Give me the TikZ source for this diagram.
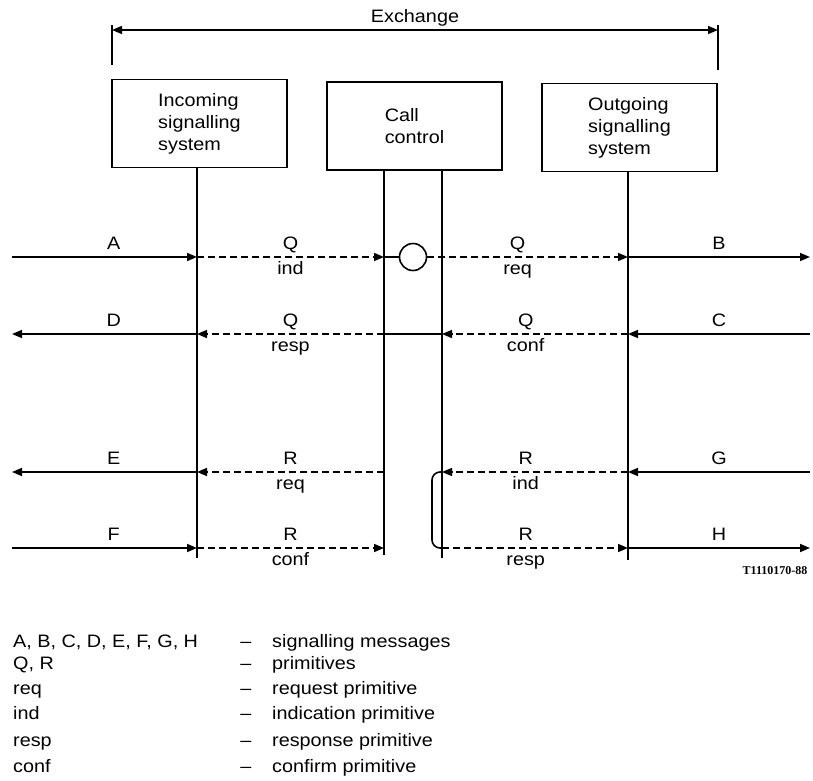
\documentclass[tikz,border=0pt]{standalone}
\usepackage{fontspec}
\setmainfont{Liberation Sans}[FakeStretch=1.1]
\newfontfamily\codefont{Liberation Serif}
\usetikzlibrary{arrows.meta}

\begin{document}
\begin{tikzpicture}[
    x=1pt, y=-1pt,
    font=\fontsize{18}{22}\selectfont,
    box/.style={rectangle, draw, line width=1.6pt, minimum width=175pt, minimum height=88pt, inner sep=0pt, align=left},
    wire/.style={draw, line width=1.6pt},
    sig/.style={wire, -{Triangle[length=10pt, width=8pt]}},
    prim/.style={sig, dash pattern=on 7pt off 4pt},
    lab/.style={inner sep=0pt, text height=13pt, text depth=4pt},
    up/.style={lab, above=3pt},
    down/.style={lab, below=4pt}
]
\useasboundingbox (0,0) rectangle (813,780);

% Define nodes
\node[box] (insys) at (199.5,123.5) {Incoming\\signalling\\system};
\node[box] (call) at (414.5,126) {Call\\control};
\node[box] (outsys) at (629.5,127.5) {Outgoing\\signalling\\system};
\node[circle, draw, line width=1.6pt, minimum size=27pt, inner sep=0pt] (cc) at (413,257) {};

\coordinate (exL) at (112,30);
\coordinate (exR) at (718,30);
\foreach \n/\y in {1/257,2/334,3/472,4/548} {
  \coordinate (l\n) at (12,\y);
  \coordinate (i\n) at (197,\y);
  \coordinate (c\n) at (384,\y);
  \coordinate (d\n) at (442,\y);
  \coordinate (o\n) at (628,\y);
  \coordinate (r\n) at (810,\y);
}

% Exchange
\draw[wire, {Triangle[length=10pt, width=8pt]}-{Triangle[length=10pt, width=8pt]}] (exL) -- node[up] {Exchange} (exR);
\draw[wire] ([yshift=5pt]exL) -- ([yshift=-35pt]exL);
\draw[wire] ([yshift=5pt]exR) -- ([yshift=-40pt]exR);

% Vertical lines
\draw[wire] (insys.south -| i1) -- ([yshift=-10pt]i4);
\draw[wire] (call.south -| c1) -- ([yshift=-7pt]c4);
\draw[wire] (call.south -| d1) -- ([yshift=-10pt]d4);
\draw[wire] (outsys.south -| o1) -- ([yshift=-12pt]o4);

% Connect nodes
\draw[sig] (l1) -- node[up, pos=0.55] {A} (i1);
\draw[prim] (i1) -- node[up] {Q} node[down] {ind} (c1);
\draw[wire] (c1) -- (cc);
\draw[prim] (cc) -- node[up, pos=0.45] {Q} node[down, pos=0.45] {req} (o1);
\draw[sig] (o1) -- node[up] {B} (r1);

\draw[sig] (r2) -- node[up] {C} (o2);
\draw[prim] (o2) -- node[up, pos=0.55] {Q} node[down, pos=0.55] {conf} (d2);
\draw[wire] (d2) -- (c2);
\draw[prim] (c2) -- node[up] {Q} node[down] {resp} (i2);
\draw[sig] (i2) -- node[up, pos=0.45] {D} (l2);

\draw[sig] (r3) -- node[up] {G} (o3);
\draw[prim] (o3) -- node[up, pos=0.55] {R} node[down, pos=0.55] {ind} (d3);
\draw[wire, rounded corners=8pt] (d3) -- ([xshift=-10pt]d3) |- (d4);
\draw[prim] (c3) -- node[up] {R} node[down] {req} (i3);
\draw[sig] (i3) -- node[up, pos=0.45] {E} (l3);

\draw[sig] (l4) -- node[up, pos=0.55] {F} (i4);
\draw[prim] (i4) -- node[up] {R} node[down] {conf} (c4);
\draw[prim] (d4) -- node[up, pos=0.45] {R} node[down, pos=0.45] {resp} (o4);
\draw[sig] (o4) -- node[up] {H} (r4);

\node[font=\codefont\bfseries\fontsize{12}{14}\selectfont] (code) at (775,571) {T1110170-88};

% Legend
\foreach \y/\k/\t in {643/{A, B, C, D, E, F, G, H}/signalling messages,
                      665/{Q, R}/primitives,
                      690/req/request primitive,
                      715/ind/indication primitive,
                      742/resp/response primitive,
                      768/conf/confirm primitive} {
  \node[lab, anchor=west] (key\y) at (13,\y) {\k};
  \node[lab] (dash\y) at (246,\y) {--};
  \node[lab, anchor=west] (def\y) at (272,\y) {\t};
}
\end{tikzpicture}
\end{document}
